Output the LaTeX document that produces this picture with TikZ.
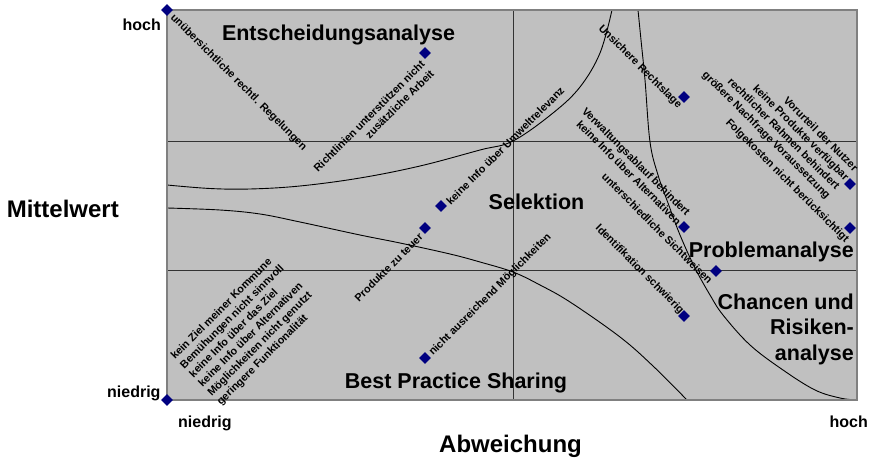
\documentclass[tikz,border=0pt]{standalone}
\usepackage{fontspec}
\setmainfont{Liberation Sans}
\usetikzlibrary{shapes.geometric}
\definecolor{plotgray}{HTML}{C0C0C0}
\definecolor{framegray}{HTML}{808080}
\definecolor{pointblue}{HTML}{000080}
\begin{document}
\begin{tikzpicture}[x=1pt,y=-1pt,
  datapt/.style={diamond, fill=pointblue, inner sep=0pt, minimum width=12pt, minimum height=12pt},
  lbl/.style={inner sep=0pt, font=\fontsize{10.8}{13}\selectfont\bfseries},
  region/.style={inner sep=0pt, font=\fontsize{21.5}{25.5}\selectfont\bfseries},
  axistitle/.style={inner sep=0pt, font=\fontsize{24}{28}\selectfont\bfseries},
  axistick/.style={inner sep=0pt, font=\fontsize{16}{19}\selectfont\bfseries},
  gridline/.style={draw=black!80, line width=1pt},
  boundary/.style={draw=black, line width=0.9pt}
]
\useasboundingbox (0,0) rectangle (875,462);
\fill[white] (0,0) rectangle (875,462);

% plot area
\fill[plotgray] (167,10) rectangle (857,400);
\draw[gridline] (167,142) -- (857,142);
\draw[gridline] (167,271) -- (857,271);
\draw[gridline] (513,10) -- (513,400);

% region boundaries
\draw[boundary] plot[smooth, tension=0.6] coordinates {(167,185) (210,188.5) (250,189) (300,186) (360,178) (420,166) (480,150) (513,141) (553,113) (580,87) (600,53) (612,10)};
\draw[boundary] plot[smooth, tension=0.6] coordinates {(638,10) (641,40) (645,80) (650,142) (658,175) (668,203) (680,235) (695,268) (710,295) (723,315) (750,345) (783,370) (815,390) (840,398) (857,400)};
\draw[boundary] plot[smooth, tension=0.6] coordinates {(167,208) (220,210) (260,214) (300,222) (360,235) (400,243) (450,254) (480,262) (513,272) (540,285) (570,302) (620,337) (653,366) (687,400)};

\draw[framegray, line width=1.5pt] (167,10) rectangle (857,400);

% region titles
\node[region, anchor=base] (t1) at (338.5,41) {Entscheidungsanalyse};
\node[region, anchor=base] (t2) at (536.5,210) {Selektion};
\node[region, anchor=base east] (t3) at (854,258) {Problemanalyse};
\node[region, anchor=north east, align=right] (t4) at (854,293.5) {Chancen und\\Risiken-\\analyse};
\node[region, anchor=base] (t5) at (456,388) {Best Practice Sharing};

% axes
\node[axistitle, anchor=base] (ay) at (62.8,218) {Mittelwert};
\node[axistitle, anchor=base] (ax) at (510.5,452) {Abweichung};
\node[axistick, anchor=base east] (yh) at (161,31) {hoch};
\node[axistick, anchor=base east] (yn) at (160.7,397) {niedrig};
\node[axistick, anchor=base west] (xn) at (178,427) {niedrig};
\node[axistick, anchor=base east] (xh) at (868,427) {hoch};

% item labels
\node[lbl, rotate=-45, anchor=west] (l1) at (172,16) {unübersichtliche rechtl. Regelungen};
\node[lbl, rotate=45, anchor=east, align=right] (l2) at (427.5,67) {Richtlinien unterstützen nicht\\zusätzliche Arbeit};
\node[lbl, rotate=-45, anchor=east] (l3) at (680,107) {Unsichere Rechtslage};
\node[lbl, rotate=-45, anchor=east, align=right] (l4) at (842,184) {Vorurteil der Nutzer\\keine Produkte verfügbar\\rechtlicher Rahmen behindert\\größere Nachfrage Voraussetzung};
\node[lbl, rotate=-45, anchor=east] (l5) at (847,241) {Folgekosten nicht berücksichtigt};
\node[lbl, rotate=-45, anchor=east, align=right] (l6) at (684,218.5) {Verwaltungsablauf behindert\\keine Info über Alternativen};
\node[lbl, rotate=-45, anchor=east] (l7) at (711,282) {unterschiedliche Sichtweisen};
\node[lbl, rotate=-45, anchor=east] (l8) at (682,312) {Identifikation schwierig};
\node[lbl, rotate=45, anchor=west] (l9) at (448,203) {keine Info über Umweltrelevanz};
\node[lbl, rotate=45, anchor=east] (l10) at (421,235) {Produkte zu teuer};
\node[lbl, rotate=45, anchor=west] (l11) at (431,354) {nicht ausreichend Möglichkeiten};
\node[lbl, rotate=45, anchor=west, align=left] (l12) at (196,381) {kein Ziel meiner Kommune\\Bemühungen nicht sinnvoll\\keine Info über das Ziel\\keine Info über Alternativen\\Möglichkeiten nicht genutzt\\geringere Funktionalität};

% data points
\node[datapt] (p1) at (167,10) {};
\node[datapt] (p2) at (425,53) {};
\node[datapt] (p3) at (684,97) {};
\node[datapt] (p4) at (850,184) {};
\node[datapt] (p5) at (850,228) {};
\node[datapt] (p6) at (684,227) {};
\node[datapt] (p7) at (716,271) {};
\node[datapt] (p8) at (684,316) {};
\node[datapt] (p9) at (441,206) {};
\node[datapt] (p10) at (425,228) {};
\node[datapt] (p11) at (425,358) {};
\node[datapt] (p12) at (167,400) {};
\end{tikzpicture}
\end{document}
